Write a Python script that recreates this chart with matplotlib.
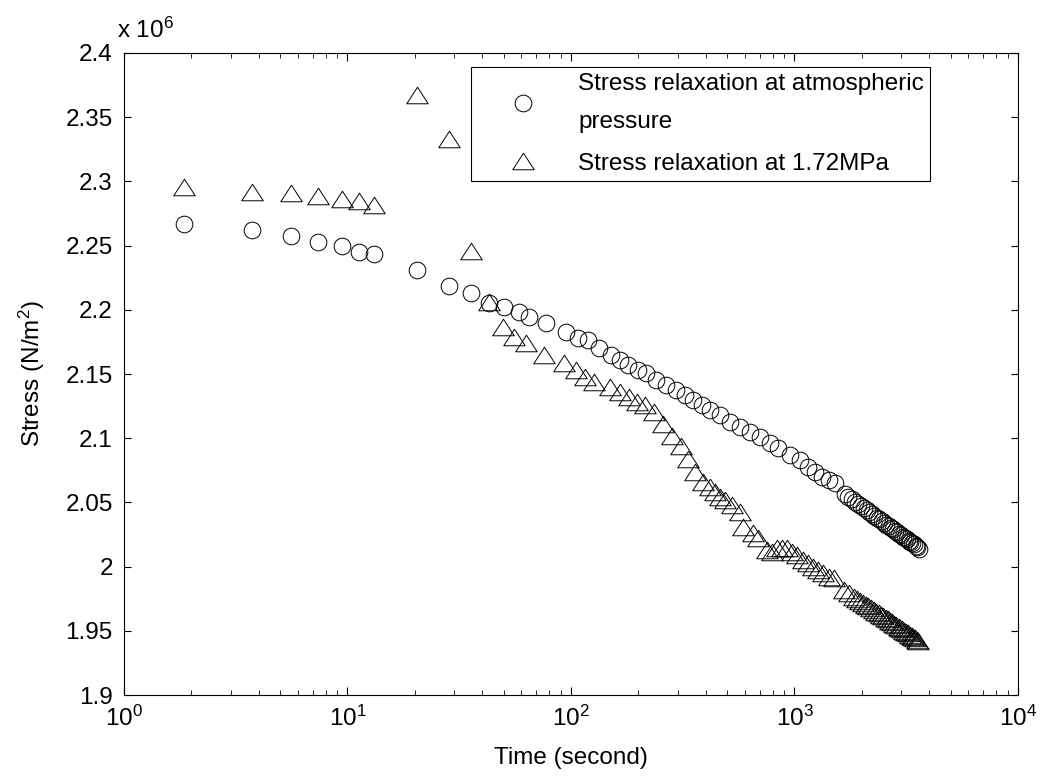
import numpy as np
import matplotlib
matplotlib.use("Agg")
from matplotlib import pyplot as plt
from matplotlib.path import Path
from matplotlib.ticker import FuncFormatter, LogLocator

plt.rcParams['font.family'] = ['Liberation Sans', 'DejaVu Sans']
plt.rcParams['mathtext.default'] = 'regular'
FS = 17.5

# stress relaxation at atmospheric pressure (time in s, stress in 10^6 N/m^2)
t_atm = [1.86, 3.75, 5.56, 7.37, 9.45, 11.3, 13.15, 20.4, 28.5, 35.6,
         43.0, 50.2, 58.7, 65.1, 77.3, 95.1, 107, 119, 134, 151,
         165, 180, 199, 217, 241, 267, 296, 323, 352, 384,
         418, 464, 514, 570, 632, 701, 777, 847, 956, 1060,
         1154, 1237, 1326, 1420, 1522,
         1680, 1740, 1800, 1860, 1920, 1980, 2040, 2100, 2160, 2220,
         2280, 2340, 2400, 2460, 2520, 2580, 2640, 2700, 2760, 2820,
         2880, 2940, 3000, 3060, 3120, 3180, 3240, 3300, 3360, 3420,
         3480, 3540, 3600]
s_atm = [2.2668, 2.2619, 2.2575, 2.2528, 2.2497, 2.2450, 2.2435, 2.2310, 2.2182, 2.2129,
         2.2051, 2.2024, 2.1985, 2.1946, 2.1895, 2.1829, 2.1778, 2.1765, 2.1700, 2.1648,
         2.1609, 2.1570, 2.1531, 2.1506, 2.1453, 2.1414, 2.1375, 2.1337, 2.1298, 2.1259,
         2.1220, 2.1181, 2.1129, 2.1090, 2.1051, 2.1012, 2.0960, 2.0921, 2.0869, 2.0830,
         2.0778, 2.0739, 2.0700, 2.0674, 2.0649,
         2.0562, 2.0543, 2.0524, 2.0506, 2.0489, 2.0472, 2.0456, 2.0440, 2.0424, 2.0409,
         2.0395, 2.0381, 2.0367, 2.0353, 2.0340, 2.0327, 2.0315, 2.0302, 2.0290, 2.0279,
         2.0267, 2.0256, 2.0245, 2.0234, 2.0223, 2.0213, 2.0203, 2.0193, 2.0183, 2.0173,
         2.0163, 2.0154, 2.0140]

# stress relaxation at 1.72 MPa
t_hp = [1.86, 3.75, 5.56, 7.37, 9.45, 11.3, 13.15, 20.4, 28.5, 35.6,
        43.0, 49.4, 55.7, 62.9, 75.9, 93.4, 105, 115, 127, 149,
        165, 181, 197, 214, 234, 258, 282, 310, 333, 358,
        390, 418, 440, 464, 488, 523, 570, 590, 654, 689,
        751, 791, 833, 877, 923, 972, 1024, 1097, 1154, 1216,
        1280, 1348, 1420, 1495, 1658, 1746, 1839,
        1900, 1960, 2020, 2080, 2140, 2200, 2260, 2320, 2380, 2440,
        2500, 2560, 2620, 2680, 2740, 2800, 2860, 2920, 2980, 3040,
        3100, 3160, 3220, 3280, 3340, 3400, 3460, 3520, 3580]
s_hp = [2.2954, 2.2920, 2.2907, 2.2889, 2.2861, 2.2847, 2.2814, 2.3673, 2.3328, 2.2460,
        2.2060, 2.1868, 2.1791, 2.1739, 2.1648, 2.1583, 2.1531, 2.1479, 2.1440, 2.1395,
        2.1362, 2.1323, 2.1284, 2.1259, 2.1206, 2.1111, 2.1017, 2.0939, 2.0838, 2.0737,
        2.0659, 2.0620, 2.0583, 2.0544, 2.0519, 2.0480, 2.0428, 2.0311, 2.0259, 2.0220,
        2.0129, 2.0116, 2.0143, 2.0143, 2.0143, 2.0116, 2.0090, 2.0051, 2.0026, 1.9999,
        1.9974, 1.9948, 1.9921, 1.9909, 1.9818, 1.9793, 1.9766,
        1.9749, 1.9734, 1.9719, 1.9704, 1.9690, 1.9676, 1.9663, 1.9650, 1.9637, 1.9625,
        1.9612, 1.9600, 1.9589, 1.9578, 1.9567, 1.9555, 1.9544, 1.9533, 1.9522, 1.9511,
        1.9500, 1.9490, 1.9480, 1.9470, 1.9460, 1.9451, 1.9441, 1.9432, 1.9423]

labels = ['Stress relaxation at atmospheric\npressure', 'Stress relaxation at 1.72MPa']

# wide, flat triangle like the old matlab marker
tri = Path([(0, 1), (-1.3, -1), (1.3, -1), (0, 1)],
           [Path.MOVETO, Path.LINETO, Path.LINETO, Path.CLOSEPOLY])

fig = plt.figure(figsize=(10.41, 7.77), dpi=100)
ax = fig.add_axes([0.1191, 0.1055, 0.8588, 0.8263])

ax.plot(t_atm, s_atm, linestyle='none', marker='o', ms=12, mfc='none',
        mec='black', mew=0.7, label=labels[0])
ax.plot(t_hp, s_hp, linestyle='none', marker=tri, ms=15.5, mfc='none',
        mec='black', mew=0.7, label=labels[1])

ax.set_xscale('log')
ax.set_xlim(1, 1e4)
ax.set_ylim(1.9, 2.4)
ax.set_yticks(np.arange(1.9, 2.4001, 0.05))
ax.yaxis.set_major_formatter(FuncFormatter(lambda v, p: '%g' % round(v, 2)))
ax.xaxis.set_minor_locator(LogLocator(base=10, subs=np.arange(2, 10)))

ax.tick_params(which='both', direction='in', top=True, right=True, labelsize=FS)
ax.tick_params(axis='x', which='major', length=6, pad=8)
ax.tick_params(axis='x', which='minor', length=3.5)
ax.tick_params(axis='y', which='major', length=5, pad=8)
for s in ax.spines.values():
    s.set_linewidth(0.8)

ax.set_xlabel('Time (second)', fontsize=FS, labelpad=11)
ax.set_ylabel('Stress (N/m$^2$)', fontsize=FS, labelpad=13)
ax.text(-0.008, 1.023, 'x 10$^6$', transform=ax.transAxes, fontsize=FS,
        ha='left', va='baseline')

leg = ax.legend(loc='upper left', bbox_to_anchor=(0.388, 0.978), fancybox=False,
                edgecolor='black', framealpha=1, borderpad=0.25, handlelength=3.8,
                handletextpad=0.36, labelspacing=0.8, fontsize=FS, borderaxespad=0)
leg.get_frame().set_linewidth(0.8)
for txt in leg.get_texts():
    txt.set_linespacing(1.95)

fig.savefig('out.png', dpi=100)
